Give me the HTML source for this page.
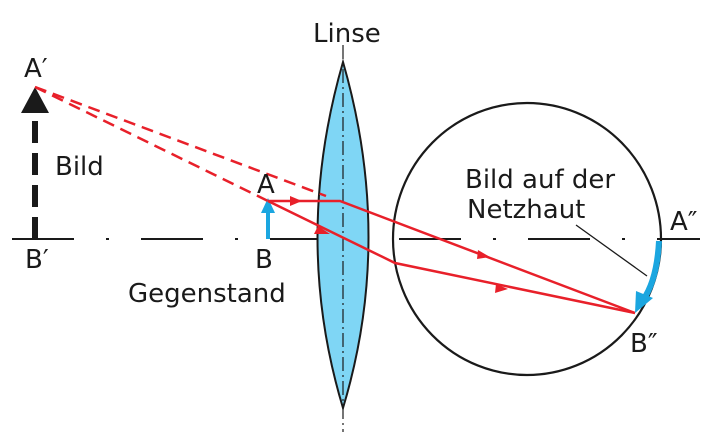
<!DOCTYPE html>
<html><head><meta charset="utf-8"><style>
html,body{margin:0;padding:0;background:#fff;width:714px;height:443px;overflow:hidden}
text{font-family:"DejaVu Sans","Liberation Sans",sans-serif;font-size:26px;fill:#1a1a1a}
</style></head><body>
<svg width="714" height="443" viewBox="0 0 714 443" xmlns="http://www.w3.org/2000/svg">
<line x1="12" y1="239" x2="700" y2="239" stroke="#1a1a1a" stroke-width="2" stroke-dasharray="62,32,3,32"/>
<path d="M343,62 Q292,239 343,408 Q394,239 343,62 Z" fill="#7fd6f5" stroke="#1a1a1a" stroke-width="2"/>
<line x1="343" y1="45" x2="343" y2="432" stroke="#1a1a1a" stroke-width="1.2" stroke-dasharray="14,4,2,4"/>
<ellipse cx="527" cy="239" rx="134" ry="136" fill="none" stroke="#1a1a1a" stroke-width="2.2"/>
<line x1="35" y1="239" x2="35" y2="110" stroke="#1a1a1a" stroke-width="6" stroke-dasharray="22,10"/>
<polygon points="35,87 21,113 49,113" fill="#1a1a1a"/>
<line x1="268" y1="239" x2="268" y2="212" stroke="#1ba6e0" stroke-width="4"/>
<polygon points="268,198 261,213 275,213" fill="#1ba6e0"/>
<line x1="35" y1="87" x2="326" y2="196" stroke="#e8202a" stroke-width="2.5" stroke-dasharray="12,7"/>
<line x1="35" y1="87" x2="268" y2="201" stroke="#e8202a" stroke-width="2.5" stroke-dasharray="12,7"/>
<polyline points="268,201 340,201 635,313" fill="none" stroke="#e8202a" stroke-width="2.5"/>
<polyline points="268,201 395,263 635,313" fill="none" stroke="#e8202a" stroke-width="2.5"/>
<polygon points="302,201 290,196 290,206" fill="#e8202a"/>
<polygon points="330,234 318,226 314,234" fill="#e8202a"/>
<polygon points="490,257 478,250 477,259" fill="#e8202a"/>
<polygon points="508,289 496,284 495,293" fill="#e8202a"/>
<path d="M659,241 Q657,280 643,300" fill="none" stroke="#1ba6e0" stroke-width="6"/>
<polygon points="635,313 636,291 653,298" fill="#1ba6e0"/>
<line x1="576" y1="225" x2="647" y2="276" stroke="#1a1a1a" stroke-width="1.3"/>
<text x="313" y="42">Linse</text>
<text x="24" y="77">A′</text>
<text x="55" y="175">Bild</text>
<text x="257" y="193">A</text>
<text x="255" y="268">B</text>
<text x="25" y="268">B′</text>
<text x="128" y="302">Gegenstand</text>
<text x="465" y="188">Bild auf der</text>
<text x="467" y="218">Netzhaut</text>
<text x="670" y="230">A″</text>
<text x="630" y="352">B″</text>
</svg>
</body></html>
